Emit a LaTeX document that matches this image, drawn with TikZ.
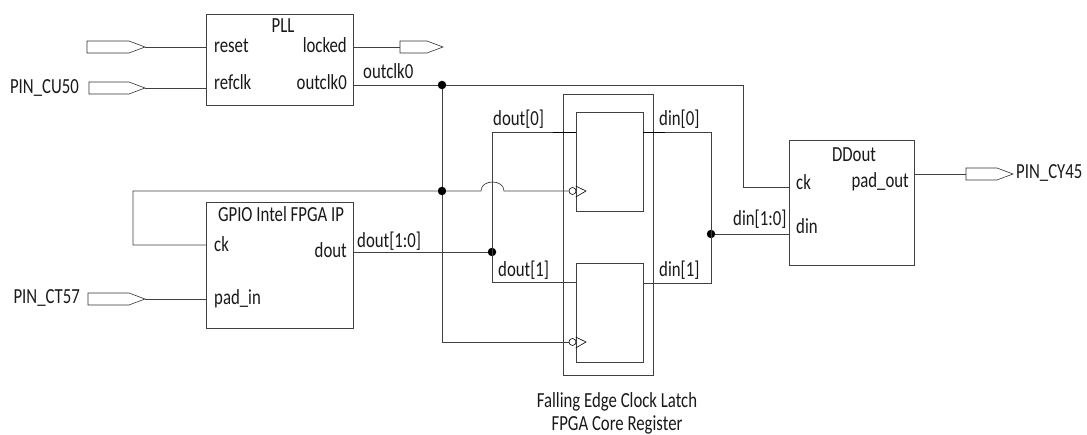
\documentclass[tikz,border=0pt]{standalone}
\usepackage{fontspec}
\setmainfont[FakeStretch=0.78]{Carlito}
\usepackage{tikz}
\usetikzlibrary{
    calc,
    shapes.symbols
}

\begin{document}
\begin{tikzpicture}[x=1pt,y=-1pt,
    wire/.style={line width=0.7pt,black!75},
    stub/.style={line width=0.8pt,black},
    block/.style={draw=black!75,line width=0.7pt,fill=white,rectangle,inner sep=0pt},
    port/.style={draw=black!80,line width=0.6pt,fill=white,signal,signal to=east,signal pointer angle=41,minimum width=#1,minimum height=12pt,inner sep=0pt,outer sep=0pt,anchor=west},
    dotj/.style={circle,fill=black,inner sep=0pt,minimum size=8.5pt},
    bubble/.style={circle,draw=black,line width=0.6pt,fill=white,inner sep=0pt,minimum size=7pt},
    txt/.style={inner sep=0pt,text=black!90,font=\fontsize{21.5}{24}\selectfont},
    lbl/.style={txt,anchor=base west},
    rlbl/.style={txt,anchor=base east},
    clbl/.style={txt,anchor=base}]

\useasboundingbox (0,0) rectangle (1087,435);

% Outer latch box
\node[block,minimum width=90pt,minimum height=281pt] (latch) at (608,234.5) {};

% Blocks
\node[block,minimum width=147pt,minimum height=91pt] (pll) at (279.5,59.5) {};
\node[block,minimum width=147pt,minimum height=126pt] (gpio) at (279.5,265) {};
\node[block,minimum width=125pt,minimum height=125pt] (ddout) at (851.5,202.5) {};
\node[block,minimum width=67pt,minimum height=99pt] (regtop) at (609.5,161.5) {};
\node[block,minimum width=67pt,minimum height=99pt] (regbot) at (609.5,312.5) {};

% Ports
\node[port=58pt] (inreset) at (87,47) {};
\node[port=56pt] (inrefclk) at (89,88) {};
\node[port=43pt] (outlocked) at (400,47) {};
\node[port=57pt] (inpad) at (88,299) {};
\node[port=47pt] (outpad) at (966,174) {};

% Clock bubbles
\node[bubble] (clktop) at (572.5,191) {};
\node[bubble] (clkbot) at (572.5,342) {};

% Junctions
\node[dotj] (jout) at (442,85) {};
\node[dotj] (jclk) at (442,191) {};
\node[dotj] (jdout) at (492,252) {};
\node[dotj] (jdin) at (711,234) {};

% Wire corners
\coordinate (toptee) at (743,85);
\coordinate (ddck) at (789,187);
\coordinate (loopa) at (133,191);
\coordinate (gpck) at (206,245);
\coordinate (hopa) at (481,191);
\coordinate (hopb) at (504,191);
\coordinate (doa) at (492,132);
\coordinate (dob) at (492,282);
\coordinate (dia) at (711,132);
\coordinate (dib) at (711,283);

% Wires on the left
\draw[wire] (inreset.east) -- (inreset.east -| pll.west);
\draw[wire] (inrefclk.east) -- (inrefclk.east -| pll.west);
\draw[wire] (pll.east |- outlocked.west) -- (outlocked.west);
\draw[wire] (inpad.east) -- (inpad.east -| gpio.west);

% Clock nets
\draw[wire] (pll.east |- jout) -- (jout) -- (toptee) |- (ddck);
\draw[wire] (jout) -- (jclk) |- (clkbot.west);
\draw[wire] (gpck) -| (loopa) -- (jclk) -- (hopa) .. controls +(0,-12) and +(0,-12) .. (hopb) -- (clktop.west);

% Data nets
\draw[wire] (gpio.east |- jdout) -- (jdout);
\draw[wire] (regtop.west |- doa) -- (doa) -- (dob) -- (regbot.west |- dob);
\draw[wire] (regtop.east |- dia) -- (dia) -- (dib) -- (regbot.east |- dib);
\draw[wire] (jdin) -- (jdin -| ddout.west);
\draw[wire] (ddout.east |- outpad.west) -- (outpad.west);
\draw[stub] (regtop.west |- doa) -- +(-23,0);
\draw[stub] (regtop.east |- dia) -- +(22,0);

% Clock triangles
\draw[line width=0.6pt] (regtop.west |- 0,186) -- (586,191) -- (regtop.west |- 0,197);
\draw[line width=0.6pt] (regbot.west |- 0,337) -- (586,342) -- (regbot.west |- 0,348);

% Labels
\node[clbl] (lpll) at (283,33) {PLL};
\node[lbl] (lreset) at (214,53) {reset};
\node[lbl] (lrefclk) at (214,90) {refclk};
\node[rlbl] (llocked) at (347,53) {locked};
\node[rlbl] (lclkin) at (347,90) {outclk0};
\node[lbl] (lclkout) at (363,79) {outclk0};
\node[rlbl] (lcu) at (79,94) {PIN\_CU50};

\node[clbl] (lgpio) at (281,222) {GPIO Intel FPGA IP};
\node[lbl] (lck) at (214,252) {ck};
\node[lbl] (lpadin) at (214,305) {pad\_in};
\node[rlbl] (ldoutp) at (347,258) {dout};
\node[lbl] (ldoutw) at (357,248) {dout[1:0]};
\node[rlbl] (lct) at (80,304) {PIN\_CT57};

\node[lbl] (ldo) at (493,126) {dout[0]};
\node[lbl] (ldi) at (659,126) {din[0]};
\node[lbl] (ldoo) at (498,277) {dout[1]};
\node[lbl] (ldii) at (659,277) {din[1]};
\node[lbl] (ldin) at (733,226) {din[1:0]};

\node[clbl] (lddout) at (854,162) {DDout};
\node[lbl] (lddck) at (796,190) {ck};
\node[lbl] (ldddin) at (796,234) {din};
\node[rlbl] (lpadout) at (909,188) {pad\_out};
\node[lbl] (lcy) at (1016,179) {PIN\_CY45};

\node[clbl] (lfall) at (617,407) {Falling Edge Clock Latch};
\node[clbl] (lcore) at (617,431) {FPGA Core Register};

\end{tikzpicture}
\end{document}
